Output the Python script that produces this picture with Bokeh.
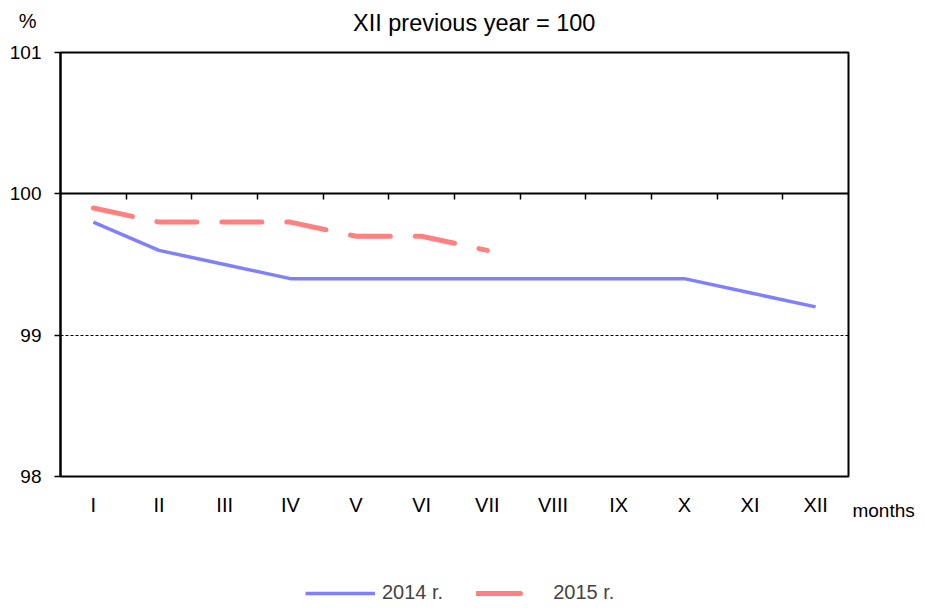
from bokeh.plotting import figure
from bokeh.models import (Range1d, LinearAxis, FixedTicker, BoxAnnotation,
                          Label, Legend, LegendItem, CustomJSTickFormatter)
from bokeh.embed import file_html
from bokeh.resources import INLINE

months = ["I", "II", "III", "IV", "V", "VI", "VII", "VIII", "IX", "X", "XI", "XII"]
values_2014 = [99.8, 99.6, 99.5, 99.4, 99.4, 99.4, 99.4, 99.4, 99.4, 99.4, 99.3, 99.2]
values_2015 = [99.9, 99.8, 99.8, 99.8, 99.7, 99.7, 99.6]
y_ticks = [98, 99, 100, 101]
Y_MIN, Y_MAX = 98, 101

FONT = "Liberation Sans"
W, H = 920, 604

# month positions on a numeric axis (one slot per month)
pos = list(range(1, len(months) + 1))
boundaries = [i + 0.5 for i in pos[:-1]]
X_MIN, X_MAX = 0.5, len(months) + 0.5

# the drawing area covers the whole canvas; the chart box sits inside it
BOX_L, BOX_R, BOX_T, BOX_B = 60, 848, 52, 476  # pixels
xu = (BOX_R - BOX_L) / (X_MAX - X_MIN)
yu = (BOX_B - BOX_T) / (Y_MAX - Y_MIN)
x_range = Range1d(X_MIN - BOX_L / xu, X_MAX + (W - BOX_R) / xu)
y_range = Range1d(Y_MIN - (H - BOX_B) / yu, Y_MAX + BOX_T / yu)

p = figure(width=W, height=H, x_range=x_range, y_range=y_range,
           x_axis_location=None, y_axis_location=None,
           output_backend="svg", toolbar_location=None,
           min_border=0, min_border_left=0, min_border_right=0,
           min_border_top=0, min_border_bottom=0)
p.outline_line_color = None
p.xgrid.visible = False
p.ygrid.visible = False

def blank_axis(**kw):
    a = LinearAxis(formatter=CustomJSTickFormatter(code="return ''"), **kw)
    a.major_label_text_font_size = "1px"
    a.minor_tick_line_color = None
    return a

# y axis
ya = LinearAxis(fixed_location=X_MIN, bounds=(Y_MIN, Y_MAX), ticker=FixedTicker(ticks=y_ticks))
ya.axis_line_color = "black"
ya.axis_line_width = 2
ya.major_tick_line_color = "black"
ya.major_tick_line_width = 1.5
ya.major_tick_out = 6
ya.major_tick_in = 0
ya.minor_tick_line_color = None
ya.major_label_standoff = 13
ya.major_label_text_font = FONT
ya.major_label_text_font_size = "19px"
ya.major_label_text_color = "black"
p.add_layout(ya, "left")

# month labels along the bottom of the box
xa = LinearAxis(fixed_location=Y_MIN, bounds=(X_MIN, X_MAX), ticker=FixedTicker(ticks=pos))
xa.major_label_overrides = {k: m for k, m in zip(pos, months)}
xa.axis_line_color = None
xa.major_tick_line_color = None
xa.minor_tick_line_color = None
xa.major_tick_out = 0
xa.major_tick_in = 0
xa.major_label_standoff = 17
xa.major_label_text_font = FONT
xa.major_label_text_font_size = "20px"
xa.major_label_text_color = "black"
p.add_layout(xa, "below")

# axis line at 100 with ticks at month boundaries
ax100 = blank_axis(fixed_location=100, bounds=(X_MIN, X_MAX),
                   ticker=FixedTicker(ticks=boundaries))
ax100.axis_line_color = "black"
ax100.axis_line_width = 2
ax100.major_tick_line_color = "black"
ax100.major_tick_line_width = 1.5
ax100.major_tick_out = 6
ax100.major_tick_in = 0
p.add_layout(ax100, "below")

# dashed reference line at 99
ax99 = blank_axis(fixed_location=99, bounds=(X_MIN, X_MAX), ticker=FixedTicker(ticks=[]))
ax99.axis_line_color = "black"
ax99.axis_line_width = 1
ax99.axis_line_dash = "3 2"
ax99.major_tick_line_color = None
p.add_layout(ax99, "below")

r14 = p.line(pos, values_2014, line_color="#8080ff", line_width=3.5)
r15 = p.line(pos[:len(values_2015)], values_2015, line_color="#ff8080", line_width=5,
             line_dash="40 25", line_cap="round")
# legend swatch for 2015 (same style, one dash only); its data draws nothing
r15_key = p.line([pos[0]], [float("nan")], line_color="#ff8080", line_width=5,
                 line_dash="44 40", line_cap="round")

# chart box
p.add_layout(BoxAnnotation(left=X_MIN, right=X_MAX, bottom=Y_MIN, top=Y_MAX,
                           fill_alpha=0, line_color="black", line_alpha=1, line_width=2))

legend = Legend(items=[LegendItem(label="2014 r.", renderers=[r14]),
                       LegendItem(label="2015 r.", renderers=[r15_key])],
                orientation="horizontal", location=(305, 0),
                padding=0, margin=0, spacing=33, glyph_width=70, glyph_height=20,
                label_height=20, label_standoff=7, inactive_fill_alpha=0,
                label_text_font=FONT, label_text_font_size="20px",
                background_fill_alpha=0, border_line_color=None)
p.add_layout(legend, "center")

p.add_layout(Label(x=6.8, y=101.21, text="XII previous year = 100",
                   text_font=FONT, text_font_size="23.5px", text_align="center",
                   text_baseline="middle", text_color="black"))
p.add_layout(Label(x=0.0, y=101.22, text="%",
                   text_font=FONT, text_font_size="20px", text_align="center",
                   text_baseline="middle", text_color="black"))
p.add_layout(Label(x=12.56, y=97.76, text="months",
                   text_font=FONT, text_font_size="19px", text_align="left",
                   text_baseline="middle", text_color="black"))

open("out.html", "w").write(file_html(p, INLINE))
